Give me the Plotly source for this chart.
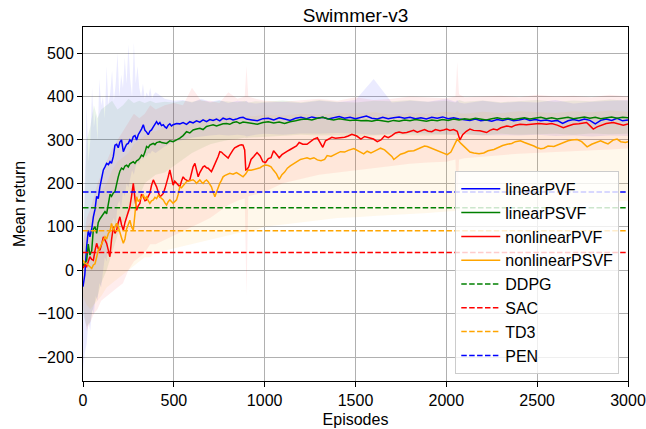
import plotly.graph_objects as go

# ---------------- data ----------------
series_names = ["linearPVF", "linearPSVF", "nonlinearPVF", "nonlinearPSVF"]
series_colors = ["#0000ff", "#008000", "#ff0000", "#ffa500"]
fill_colors = ["rgba(0,0,255,0.08)", "rgba(0,128,0,0.08)", "rgba(255,0,0,0.07)", "rgba(255,165,0,0.08)"]

early_ep = [0, 10, 20, 29, 38, 48, 57, 66, 75, 84, 93, 103, 112, 121, 130, 140, 149, 157, 167, 176,
            185, 194, 203, 212, 222, 231, 240, 249, 258, 267, 277, 286, 295, 304, 313, 322, 332, 341, 350, 359,
            368, 377, 387, 396, 405, 414, 423, 432, 442, 451, 460, 469, 478, 487, 496, 515, 533, 551, 570, 588,
            606, 625, 643, 661, 680, 698, 716, 735, 753, 771, 790, 808, 826, 845, 863, 881, 900]
late_ep = [930, 960, 990, 1020, 1050, 1080, 1110, 1140, 1170, 1200, 1230, 1260, 1290, 1320, 1350, 1380, 1410, 1440, 1470, 1500,
           1530, 1560, 1590, 1620, 1650, 1680, 1710, 1740, 1770, 1800, 1830, 1860, 1890, 1920, 1950, 1980, 2010, 2040, 2070, 2100,
           2130, 2160, 2190, 2220, 2250, 2280, 2310, 2340, 2370, 2400, 2430, 2460, 2490, 2520, 2550, 2580, 2610, 2640, 2670, 2700,
           2730, 2760, 2790, 2820, 2850, 2880, 2910, 2940, 2970, 3000]

linearPVF_early = [-38, -10, 54, 92, 77, 95, 123, 140, 170, 165, 192, 210, 231, 238, 246, 243, 250, 246, 262, 288,
                   290, 282, 295, 300, 273, 282, 290, 292, 300, 296, 308, 310, 300, 312, 318, 325, 335, 322, 318, 312,
                   320, 323, 330, 338, 342, 336, 340, 333, 335, 330, 327, 334, 337, 332, 335, 338, 337, 340, 336, 342,
                   339, 344, 341, 346, 342, 347, 345, 348, 344, 350, 347, 349, 346, 348, 351, 352, 348]
linearPVF_late = [346, 344, 349, 350, 346, 351, 348, 345, 350, 352, 349, 353, 350, 352, 348, 351, 354, 350, 352, 349,
                  352, 355, 350, 348, 352, 349, 351, 353, 350, 352, 349, 351, 348, 352, 350, 353, 349, 351, 348, 346,
                  345, 348, 344, 346, 343, 347, 345, 348, 344, 346, 349, 345, 347, 344, 346, 343, 345, 338, 344, 347,
                  344, 348, 345, 337, 345, 348, 345, 350, 344, 346]

linearPSVF_early = [10, 18, 22, 60, 35, 45, 95, 100, 85, 110, 118, 125, 128, 135, 130, 150, 175, 170, 178, 181,
                    200, 215, 228, 235, 232, 240, 242, 238, 245, 248, 250, 246, 252, 254, 258, 265, 262, 272, 285, 282,
                    288, 290, 292, 289, 294, 295, 296, 294, 293, 292, 292, 295, 298, 297, 296, 300, 304, 310, 319, 316,
                    323, 325, 327, 324, 331, 333, 335, 332, 335, 337, 338, 336, 340, 342, 338, 341, 340]
linearPSVF_late = [338, 336, 340, 342, 339, 341, 338, 342, 344, 347, 348, 346, 350, 352, 348, 346, 349, 347, 345, 346,
                   344, 345, 343, 346, 344, 342, 345, 343, 346, 344, 347, 345, 343, 346, 344, 347, 345, 348, 346, 349,
                   347, 350, 348, 346, 349, 351, 348, 350, 347, 349, 351, 348, 350, 352, 349, 351, 348, 350, 352, 349,
                   351, 353, 350, 352, 349, 351, 353, 350, 352, 351]

nonlinearPVF_ep = [0, 10, 20, 29, 38, 48, 57, 66, 75, 84, 93, 103, 112, 121, 130, 140, 148, 157, 167, 176,
                   185, 194, 203, 212, 222, 231, 240, 249, 258, 267, 277, 286, 295, 304, 313, 322, 332, 341, 350, 359,
                   368, 377, 387, 396, 405, 414, 423, 432, 442, 451, 460, 469, 478, 487, 496, 505, 515, 524, 533, 542,
                   551, 560, 570, 579, 588, 597, 606, 616, 625, 634, 643, 652, 661, 670, 680, 689, 698, 707, 716, 726,
                   735, 744, 753, 762, 771, 780, 790, 799, 808, 817, 826, 835, 845, 854, 863, 872, 881, 890, 896, 903,
                   912, 925, 940, 958, 975, 990, 1005, 1020, 1035, 1049, 1065, 1080, 1095, 1110, 1125, 1141, 1160, 1175, 1190, 1210,
                   1233, 1250, 1270, 1290, 1305, 1320, 1335, 1350, 1370, 1390, 1416, 1440, 1460, 1480, 1507, 1530, 1550, 1570, 1599, 1620,
                   1640, 1660, 1680, 1700, 1720, 1740, 1760, 1782, 1800, 1820, 1840, 1860, 1880, 1900, 1920, 1940, 1965, 1985, 2002, 2020,
                   2040, 2060, 2075, 2090, 2110, 2130, 2150, 2185, 2200, 2222, 2240, 2259, 2280, 2300, 2332, 2360, 2380, 2406, 2440, 2479,
                   2510, 2552, 2580, 2610, 2644, 2670, 2699, 2730, 2772, 2790, 2809, 2830, 2845, 2880, 2919, 2950, 2974, 3000]
nonlinearPVF_val = [5, 12, 8, 20, 31, 25, 23, 45, 62, 50, 46, 60, 77, 70, 62, 45, 31, 70, 100, 85,
                    92, 110, 123, 105, 92, 110, 123, 135, 146, 170, 200, 165, 138, 148, 154, 175, 169, 160, 162, 170,
                    177, 195, 208, 200, 192, 180, 169, 172, 177, 188, 200, 215, 231, 210, 196, 205, 200, 196, 192, 205,
                    215, 210, 208, 205, 208, 225, 238, 246, 230, 215, 225, 232, 238, 240, 236, 235, 230, 227, 235, 244,
                    250, 262, 273, 272, 268, 265, 262, 258, 265, 272, 277, 282, 285, 286, 288, 289, 288, 277, 231, 232,
                    238, 255, 262, 271, 263, 250, 248, 257, 259, 275, 267, 259, 266, 271, 274, 278, 283, 286, 294, 290,
                    290, 296, 302, 305, 294, 283, 298, 302, 306, 304, 305, 306, 309, 313, 309, 302, 308, 306, 302, 296,
                    300, 309, 305, 310, 316, 318, 316, 317, 320, 322, 318, 321, 324, 320, 319, 324, 321, 323, 325, 322,
                    324, 320, 300, 312, 320, 325, 322, 321, 319, 317, 322, 325, 323, 328, 332, 330, 334, 336, 335, 336,
                    338, 336, 338, 334, 328, 332, 336, 337, 340, 333, 325, 330, 332, 338, 340, 336, 334, 337]

nonlinearPSVF_ep = [0, 10, 20, 29, 38, 48, 57, 66, 75, 84, 93, 103, 112, 121, 130, 140, 149, 157, 167, 176,
                    185, 194, 203, 212, 222, 231, 240, 249, 258, 267, 277, 286, 295, 304, 313, 322, 332, 341, 350, 359,
                    368, 377, 387, 396, 405, 414, 423, 432, 442, 451, 460, 469, 478, 487, 496, 505, 515, 524, 533, 542,
                    551, 560, 570, 588, 606, 616, 625, 634, 643, 652, 661, 670, 680, 689, 698, 707, 716, 726, 735, 744,
                    753, 762, 771, 780, 790, 808, 826, 845, 863, 881, 896, 909, 925, 940, 958, 975, 990, 1005, 1020, 1035,
                    1049, 1065, 1080, 1095, 1110, 1125, 1141, 1160, 1175, 1197, 1215, 1233, 1250, 1271, 1290, 1310, 1330, 1344, 1365, 1385,
                    1400, 1417, 1440, 1460, 1491, 1507, 1530, 1545, 1564, 1585, 1600, 1620, 1638, 1660, 1680, 1700, 1711, 1730, 1748, 1770,
                    1790, 1821, 1840, 1860, 1880, 1895, 1920, 1945, 1968, 1985, 2005, 2025, 2045, 2060, 2080, 2100, 2115, 2130, 2151, 2180,
                    2206, 2230, 2262, 2290, 2310, 2335, 2360, 2380, 2408, 2430, 2460, 2482, 2500, 2520, 2537, 2560, 2592, 2620, 2650, 2670,
                    2690, 2720, 2745, 2775, 2800, 2830, 2849, 2870, 2890, 2920, 2940, 2960, 2986, 3000]
nonlinearPSVF_val = [23, 16, 15, 12, 8, 4, 12, 15, 30, 46, 52, 62, 70, 77, 72, 85, 90, 108, 92, 100,
                     108, 100, 85, 75, 62, 72, 95, 108, 115, 100, 92, 130, 169, 158, 162, 168, 173, 165, 169, 160,
                     154, 160, 162, 168, 165, 172, 169, 165, 162, 155, 150, 158, 162, 158, 154, 158, 162, 175, 192, 190,
                     194, 200, 204, 206, 208, 205, 200, 204, 208, 203, 200, 205, 208, 204, 197, 192, 180, 169, 180, 192,
                     200, 207, 215, 218, 220, 223, 221, 225, 220, 215, 222, 231, 230, 232, 234, 236, 240, 242, 241, 238,
                     230, 222, 209, 220, 226, 235, 240, 245, 248, 255, 257, 259, 256, 259, 254, 252, 255, 264, 262, 266,
                     268, 273, 272, 276, 280, 277, 272, 268, 274, 270, 273, 278, 281, 277, 270, 262, 255, 262, 267, 270,
                     274, 275, 279, 283, 286, 285, 281, 276, 273, 270, 266, 272, 288, 302, 292, 284, 280, 272, 270, 268,
                     270, 275, 278, 284, 287, 290, 292, 296, 298, 294, 290, 286, 282, 280, 281, 286, 285, 290, 294, 298,
                     300, 301, 296, 284, 290, 295, 298, 294, 291, 300, 302, 296, 294, 296]

# shaded spread (upper / lower envelopes)
linearPVF_band_ep = [0, 10, 20, 30, 40, 50, 60, 70, 80, 90, 100, 110, 120, 130, 140, 150, 160, 170, 180, 190,
                     200, 210, 220, 230, 240, 250, 260, 270, 280, 290, 300, 310, 320, 330, 340, 350, 360, 370, 380, 390,
                     400, 450, 500, 550, 600, 650, 700, 750, 800, 850, 890, 900, 910, 950, 1000, 1100, 1200, 1300, 1400, 1500,
                     1600, 1700, 1800, 1900, 2000, 2050, 2060, 2070, 2100, 2200, 2300, 2400, 2500, 2600, 2700, 2800, 2900, 3000]
linearPVF_upper = [40, 200, 380, 250, 300, 420, 330, 360, 300, 440, 380, 400, 350, 470, 380, 410, 460, 390, 430, 500,
                   400, 450, 420, 490, 430, 520, 440, 400, 525, 430, 470, 420, 400, 430, 395, 410, 400, 420, 395, 405,
                   410, 395, 390, 392, 386, 395, 388, 392, 385, 390, 388, 390, 386, 384, 386, 388, 385, 390, 387, 392,
                   440, 386, 390, 388, 395, 388, 392, 386, 384, 390, 385, 388, 386, 392, 384, 388, 390, 392]
linearPVF_lower = [-230, -190, -170, -120, -140, -90, -100, -60, -70, -30, -40, 0, 30, 20, 80, 60, 110, 120, 100, 150,
                   160, 140, 180, 170, 200, 190, 210, 230, 220, 240, 250, 245, 260, 255, 265, 262, 270, 268, 275, 272,
                   270, 285, 295, 300, 305, 308, 310, 312, 310, 312, 310, 308, 310, 312, 314, 312, 315, 314, 316, 315,
                   312, 314, 316, 315, 313, 312, 314, 313, 312, 310, 311, 310, 312, 309, 310, 308, 310, 309]

band_ep = [0, 20, 40, 60, 80, 100, 130, 160, 190, 220, 250, 280, 310, 340, 370, 400, 450, 500, 550, 600,
           650, 700, 750, 800, 850, 890, 900, 910, 950, 1000, 1100, 1200, 1300, 1400, 1500, 1600, 1700, 1800, 1900, 2000,
           2050, 2060, 2070, 2100, 2200, 2300, 2400, 2500, 2600, 2700, 2800, 2900, 3000]
linearPSVF_upper = [40, 300, 330, 380, 350, 370, 380, 390, 370, 380, 395, 385, 390, 385, 390, 385, 388, 386, 390, 388,
                    392, 386, 390, 388, 387, 390, 388, 386, 389, 388, 391, 387, 392, 388, 386, 390, 389, 392, 388, 390,
                    386, 389, 392, 388, 391, 387, 390, 392, 388, 391, 389, 393, 390]
linearPSVF_lower = [-100, -130, -120, -80, -60, -30, 0, 40, 80, 110, 130, 150, 170, 200, 210, 220, 225, 240, 255, 270,
                    280, 290, 295, 300, 302, 305, 304, 305, 307, 308, 310, 312, 310, 311, 309, 310, 312, 311, 310, 312,
                    311, 310, 312, 313, 311, 314, 312, 313, 314, 312, 315, 313, 314]
nonlinearPVF_upper = [60, 120, 140, 170, 200, 220, 250, 280, 300, 320, 340, 360, 350, 360, 380, 370, 380, 385, 380, 420,
                      390, 390, 385, 410, 395, 400, 470, 400, 395, 390, 388, 392, 395, 390, 398, 392, 395, 400, 398, 396,
                      400, 480, 405, 398, 400, 402, 398, 404, 400, 402, 398, 404, 400]
nonlinearPVF_lower = [-80, -140, -120, -100, -90, -70, -60, -50, -40, -30, 0, 20, 30, 40, 60, 60, 70, 80, 90, 100,
                      110, 120, 135, 150, 160, 165, -60, 170, 175, 180, 200, 210, 220, 225, 230, 235, 240, 245, 248, 250,
                      255, 140, 255, 258, 262, 265, 268, 270, 272, 275, 276, 278, 280]
nonlinearPSVF_upper = [60, 100, 110, 140, 160, 180, 200, 230, 250, 260, 270, 290, 300, 310, 320, 320, 330, 335, 340, 345,
                       348, 350, 352, 355, 350, 352, 356, 354, 355, 358, 356, 360, 358, 362, 360, 364, 358, 362, 360, 365,
                       362, 368, 362, 360, 365, 362, 366, 364, 362, 366, 364, 368, 365]
nonlinearPSVF_lower = [-60, -80, -90, -80, -70, -60, -40, -30, -20, -10, 0, 10, 20, 30, 30, 40, 45, 50, 55, 60,
                       65, 70, 75, 80, 85, 88, 90, 88, 92, 100, 105, 110, 115, 120, 122, 125, 128, 130, 132, 135,
                       136, 137, 136, 138, 140, 142, 145, 148, 150, 152, 155, 158, 160]

baseline_names = ["DDPG", "SAC", "TD3", "PEN"]
baseline_values = [144, 41, 91, 180]
baseline_colors = ["#008000", "#ff0000", "#ffa500", "#0000ff"]

x_ticks = [0, 500, 1000, 1500, 2000, 2500, 3000]
y_ticks = [-200, -100, 0, 100, 200, 300, 400, 500]
y_ticktext = ["\u2212200", "\u2212100", "0", "100", "200", "300", "400", "500"]

# ---------------- assemble ----------------
means = [
    (early_ep + late_ep, linearPVF_early + linearPVF_late),
    (early_ep + late_ep, linearPSVF_early + linearPSVF_late),
    (nonlinearPVF_ep, nonlinearPVF_val),
    (nonlinearPSVF_ep, nonlinearPSVF_val),
]
bands = [
    (linearPVF_band_ep, linearPVF_upper, linearPVF_lower),
    (band_ep, linearPSVF_upper, linearPSVF_lower),
    (band_ep, nonlinearPVF_upper, nonlinearPVF_lower),
    (band_ep, nonlinearPSVF_upper, nonlinearPSVF_lower),
]
for (xs, ys) in means:
    assert len(xs) == len(ys), (len(xs), len(ys))
for (be, u, l) in bands:
    assert len(u) == len(be) and len(l) == len(be), (len(u), len(l), len(be))

FONT = "Liberation Sans, Arial, Helvetica, sans-serif"
fig = go.Figure()

for (be, u, l), fc in zip(bands, fill_colors):
    fig.add_trace(go.Scatter(
        x=be + be[::-1], y=u + l[::-1],
        fill="toself", fillcolor=fc, line=dict(width=0), mode="lines",
        hoverinfo="skip", showlegend=False))

for (xs, ys), name, col in zip(means, series_names, series_colors):
    fig.add_trace(go.Scatter(x=xs, y=ys, mode="lines", name=name,
                             line=dict(color=col, width=1.5)))

for name, val, col in zip(baseline_names, baseline_values, baseline_colors):
    fig.add_trace(go.Scatter(x=[x_ticks[0], x_ticks[-1]], y=[val, val], mode="lines", name=name,
                             line=dict(color=col, width=1.5, dash="5.5px,2.4px")))

axis_common = dict(showline=True, linecolor="black", linewidth=1, mirror=True,
                   ticks="outside", ticklen=5, tickwidth=1, tickcolor="black",
                   showgrid=True, gridcolor="#b0b0b0", gridwidth=1, zeroline=False,
                   automargin=False,
                   tickfont=dict(family=FONT, size=16, color="black"))

fig.update_layout(
    width=646, height=429,
    margin=dict(l=83, r=18, t=27, b=48),
    paper_bgcolor="white", plot_bgcolor="white",
    font=dict(family=FONT, size=16, color="black"),
    title=dict(text="Swimmer-v3", x=0.5, xref="paper", xanchor="center",
               y=1 - 15 / 429, yref="container", yanchor="middle",
               font=dict(family=FONT, size=19, color="black")),
    xaxis=dict(range=[0, 3000], tickvals=x_ticks,
               title=dict(text="Episodes", font=dict(family=FONT, size=16), standoff=5),
               **axis_common),
    yaxis=dict(range=[-255, 560], tickvals=y_ticks, ticktext=y_ticktext,
               title=dict(text="Mean return", font=dict(family=FONT, size=16), standoff=8),
               **axis_common),
    legend=dict(x=0.984, y=0.02, xanchor="right", yanchor="bottom",
                bgcolor="rgba(255,255,255,0.8)", bordercolor="#cccccc", borderwidth=1,
                itemwidth=39,
                font=dict(family=FONT, size=16, color="black"), tracegroupgap=0),
    showlegend=True,
)

fig.write_html("out.html", config={"displayModeBar": False},
               post_script="document.body.style.margin='0';")
